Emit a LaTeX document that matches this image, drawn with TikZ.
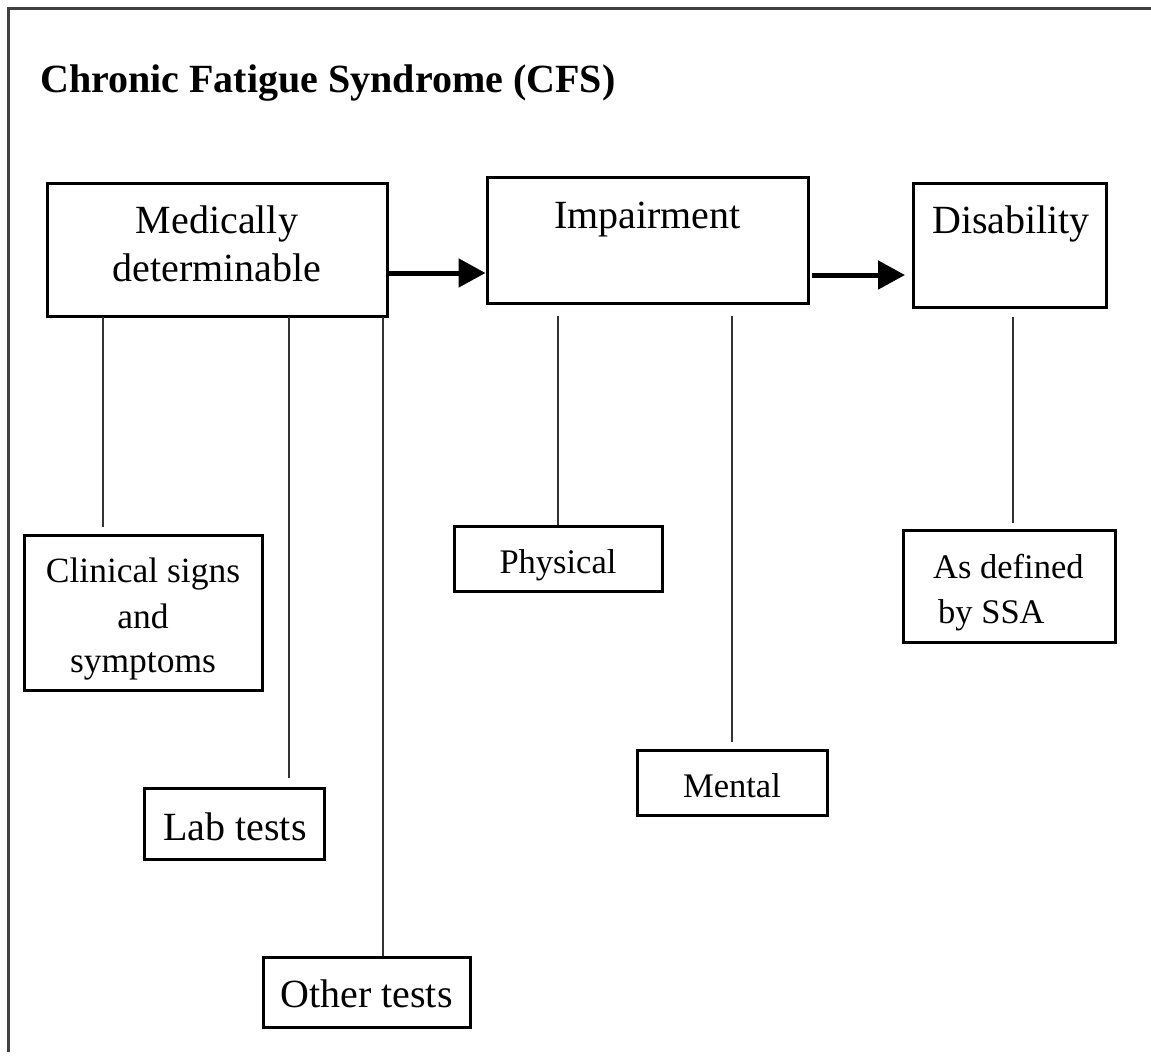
\documentclass[tikz,border=0pt]{standalone}
\usepackage{fontspec}
\setmainfont{Liberation Serif}
\usetikzlibrary{arrows.meta}
\tikzset{
  box/.style={draw=black, line width=3pt, inner sep=0pt, fill=none},
  conn/.style={draw=black!80, line width=2.4pt},
  arr/.style={draw=black, line width=5pt, -{Triangle[length=27pt,width=28pt]}},
  frame/.style={draw=black!75, line width=3pt},
  t40/.style={anchor=base, inner sep=0pt, font=\fontsize{40}{48}\selectfont},
  t35/.style={anchor=base, inner sep=0pt, font=\fontsize{35.5}{42}\selectfont},
  t34/.style={anchor=base, inner sep=0pt, font=\fontsize{34.5}{42}\selectfont},
}
\begin{document}
\begin{tikzpicture}[x=1pt,y=-1pt]
\useasboundingbox (0,0) rectangle (1151,1055);
% frame
\coordinate (fbl) at (8,1052);
\coordinate (ftl) at (8,8);
\coordinate (ftr) at (1151,8);
\draw[frame] (fbl) -- (ftl) -- (ftr);
% title
\node[anchor=base west, inner sep=0pt, font=\fontsize{40}{48}\selectfont\bfseries] (title) at (40,92) {Chronic Fatigue Syndrome (CFS)};
% boxes
\node[box, minimum width=340pt, minimum height=133pt] (med) at (217,249.5) {};
\node[box, minimum width=321pt, minimum height=126pt] (imp) at (647.5,240) {};
\node[box, minimum width=193pt, minimum height=124pt] (dis) at (1009.5,245) {};
\node[box, minimum width=238pt, minimum height=155pt] (clin) at (143,612.5) {};
\node[box, minimum width=180pt, minimum height=71pt] (lab) at (234,823.5) {};
\node[box, minimum width=207pt, minimum height=70pt] (oth) at (366.5,992) {};
\node[box, minimum width=208pt, minimum height=65pt] (phys) at (558,558.5) {};
\node[box, minimum width=190pt, minimum height=65pt] (ment) at (732,782.5) {};
\node[box, minimum width=212pt, minimum height=112pt] (ssa) at (1009,586) {};
% texts
\node[t40] (medA) at (217,233) {Medically};
\node[t40] (medB) at (217,281) {determinable};
\node[t40] (impT) at (647.5,228) {Impairment};
\node[t40] (disT) at (1011,233) {Disability};
\node[t35] (clinA) at (143,582) {Clinical signs};
\node[t35] (clinB) at (143,628) {and};
\node[t35] (clinC) at (143,672) {symptoms};
\node[t40] (labT) at (235,840) {Lab tests};
\node[t40] (othT) at (366.5,1007) {Other tests};
\node[t34] (physT) at (558,573) {Physical};
\node[t34] (mentT) at (732,797) {Mental};
\node[t34, anchor=base west] (ssaA) at (933,578) {As defined};
\node[t34, anchor=base west] (ssaB) at (938,623) {by SSA};
% connectors
\coordinate (l1a) at (103,317); \coordinate (l1b) at (103,527);
\coordinate (l2a) at (289,317); \coordinate (l2b) at (289,778);
\coordinate (l3a) at (383,317);
\coordinate (l4a) at (558,316); \coordinate (l4b) at (558,525);
\coordinate (l5a) at (732,316); \coordinate (l5b) at (732,742);
\coordinate (l6a) at (1013,317); \coordinate (l6b) at (1013,523);
\draw[conn] (l1a) -- (l1b);
\draw[conn] (l2a) -- (l2b);
\draw[conn] (l3a) -- (l3a |- oth.north);
\draw[conn] (l4a) -- (l4b);
\draw[conn] (l5a) -- (l5b);
\draw[conn] (l6a) -- (l6b);
% arrows
\coordinate (a1) at (0,273);
\coordinate (a2s) at (812,275);
\coordinate (a2e) at (905,275);
\draw[arr] (med.east |- a1) -- (imp.west |- a1);
\draw[arr] (a2s) -- (a2e);
\end{tikzpicture}
\end{document}
